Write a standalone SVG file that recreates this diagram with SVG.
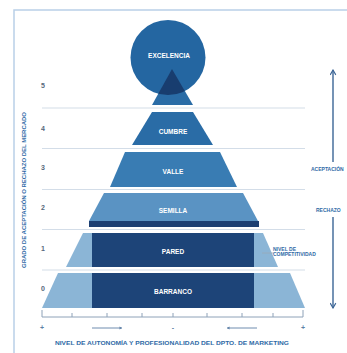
<svg xmlns="http://www.w3.org/2000/svg" width="347" height="353" viewBox="0 0 347 353">
  <style>
    .lvl { font-family: "Liberation Sans", Arial, sans-serif; font-weight: bold; font-size: 6.5px; fill: #ffffff; text-anchor: middle; }
    .num { font-family: "Liberation Sans", Arial, sans-serif; font-weight: bold; font-size: 7px; fill: #56687c; text-anchor: middle; }
    .axis-lbl { font-family: "Liberation Sans", Arial, sans-serif; font-weight: bold; font-size: 5px; fill: #2f6aa6; }
    .sep { stroke: #d3dde8; stroke-width: 1.2; }
    .axis { stroke: #8ea2b8; stroke-width: 1; fill: none; }
    .arrow { stroke: #3b6596; stroke-width: 1.4; fill: none; }
  </style>
  <defs>
    <marker id="head" viewBox="0 0 10 10" refX="8" refY="5" markerWidth="5" markerHeight="5" orient="auto-start-reverse">
      <path d="M1,1 L8,5 L1,9" fill="none" stroke="#3b6596" stroke-width="1.6"/>
    </marker>
    <marker id="small" viewBox="0 0 10 10" refX="8" refY="5" markerWidth="4" markerHeight="4" orient="auto">
      <path d="M1,1 L8,5 L1,9 Z" fill="#5d7fa6"/>
    </marker>
    <clipPath id="bubble"><circle cx="168" cy="57.5" r="37.5"/></clipPath>
  </defs>

  <rect width="347" height="353" fill="#ffffff"/>
  <!-- frame -->
  <path d="M14,353 V10 H347" fill="none" stroke="#b9d0e8" stroke-width="1.5"/>

  <!-- level separators -->
  <g id="separators">
    <line class="sep" x1="42" y1="108" x2="305" y2="108"/>
    <line class="sep" x1="42" y1="148.5" x2="305" y2="148.5"/>
    <line class="sep" x1="42" y1="189.5" x2="305" y2="189.5"/>
    <line class="sep" x1="42" y1="229.5" x2="305" y2="229.5"/>
    <line class="sep" x1="42" y1="270" x2="305" y2="270"/>
  </g>

  <!-- level numbers -->
  <g id="levels">
    <text class="num" x="43" y="88">5</text>
    <text class="num" x="43" y="131">4</text>
    <text class="num" x="43" y="170">3</text>
    <text class="num" x="43" y="210">2</text>
    <text class="num" x="43" y="251">1</text>
    <text class="num" x="43" y="291">0</text>
  </g>

  <g id="excelencia">
    <circle cx="168" cy="57.5" r="37.5" fill="#2466a1"/>
    <polygon points="172,69 152,105 193,105" fill="#2a6ca6"/>
    <polygon points="172,69 152,105 193,105" fill="#183d6f" clip-path="url(#bubble)"/>
    <text class="lvl" x="169" y="58" font-size="7">EXCELENCIA</text>
  </g>

  <g id="cumbre">
    <polygon points="152,112 193,112 213,145 132,145" fill="#2a6ca6"/>
    <text class="lvl" x="173" y="133.5">CUMBRE</text>
  </g>

  <g id="valle">
    <polygon points="125,152 220,152 237,187 110,187" fill="#397cb3"/>
    <text class="lvl" x="173" y="173.5">VALLE</text>
  </g>

  <g id="semilla">
    <polygon points="104,193 243,193 258,221 89,221" fill="#5a93c3"/>
    <rect x="89" y="221" width="170" height="6" fill="#1d3f72"/>
    <text class="lvl" x="173" y="213">SEMILLA</text>
  </g>

  <g id="pared">
    <polygon points="83,233 263,233 278,267 66,267" fill="#8bb5d6"/>
    <rect x="92" y="233" width="162" height="34" fill="#1d4478"/>
    <text class="lvl" x="173" y="254">PARED</text>
  </g>

  <g id="barranco">
    <polygon points="58,273 290,273 305,308 42,308" fill="#8bb5d6"/>
    <rect x="92" y="273" width="162" height="35" fill="#1d4478"/>
    <text class="lvl" x="173" y="294">BARRANCO</text>
  </g>

  <g id="competitividad">
    <line x1="262" y1="253" x2="274" y2="253" stroke="#9aa9b8" stroke-width="0.8"/>
    <text class="axis-lbl" x="273" y="250.5" font-size="4.8">NIVEL DE</text>
    <text class="axis-lbl" x="273" y="256" font-size="4.8">COMPETITIVIDAD</text>
  </g>

  <!-- horizontal axis -->
  <g id="autonomia-axis">
    <path class="axis" d="M42,317 H303 M42,310 V317 M303,310 V317 M72,313 V317 M107,313 V317 M142,313 V317 M173,313 V317 M207,313 V317 M242,313 V317 M273,313 V317"/>
    <text x="42" y="330" font-family="Liberation Sans, Arial, sans-serif" font-weight="bold" font-size="7" fill="#5d7fa6" text-anchor="middle">+</text>
    <text x="173" y="330" font-family="Liberation Sans, Arial, sans-serif" font-weight="bold" font-size="7" fill="#5d7fa6" text-anchor="middle">-</text>
    <text x="303" y="330" font-family="Liberation Sans, Arial, sans-serif" font-weight="bold" font-size="7" fill="#5d7fa6" text-anchor="middle">+</text>
    <text class="axis-lbl" x="55" y="345" font-size="5.2" textLength="234" lengthAdjust="spacingAndGlyphs">NIVEL DE AUTONOMÍA Y PROFESIONALIDAD DEL DPTO. DE MARKETING</text>
  </g>

  <!-- vertical axis label -->
  <g id="mercado-axis">
    <text class="axis-lbl" transform="translate(25.5,268) rotate(-90)" x="0" y="0" font-size="5" textLength="156" lengthAdjust="spacingAndGlyphs">GRADO DE ACEPTACIÓN O RECHAZO DEL MERCADO</text>
  </g>

  <g id="connectors">
    <line x1="92" y1="328" x2="122" y2="328" stroke="#5d7fa6" stroke-width="0.9" marker-end="url(#small)"/>
    <line x1="257" y1="328" x2="227" y2="328" stroke="#5d7fa6" stroke-width="0.9" marker-end="url(#small)"/>
    <line class="arrow" x1="333" y1="162" x2="333" y2="70" marker-end="url(#head)"/>
    <line class="arrow" x1="333" y1="217" x2="333" y2="308" marker-end="url(#head)"/>
  </g>

  <g id="aceptacion-rechazo">
    <text class="axis-lbl" x="311" y="171" font-size="5.9">ACEPTACIÓN</text>
    <text class="axis-lbl" x="316" y="212" font-size="5.9">RECHAZO</text>
  </g>
</svg>
